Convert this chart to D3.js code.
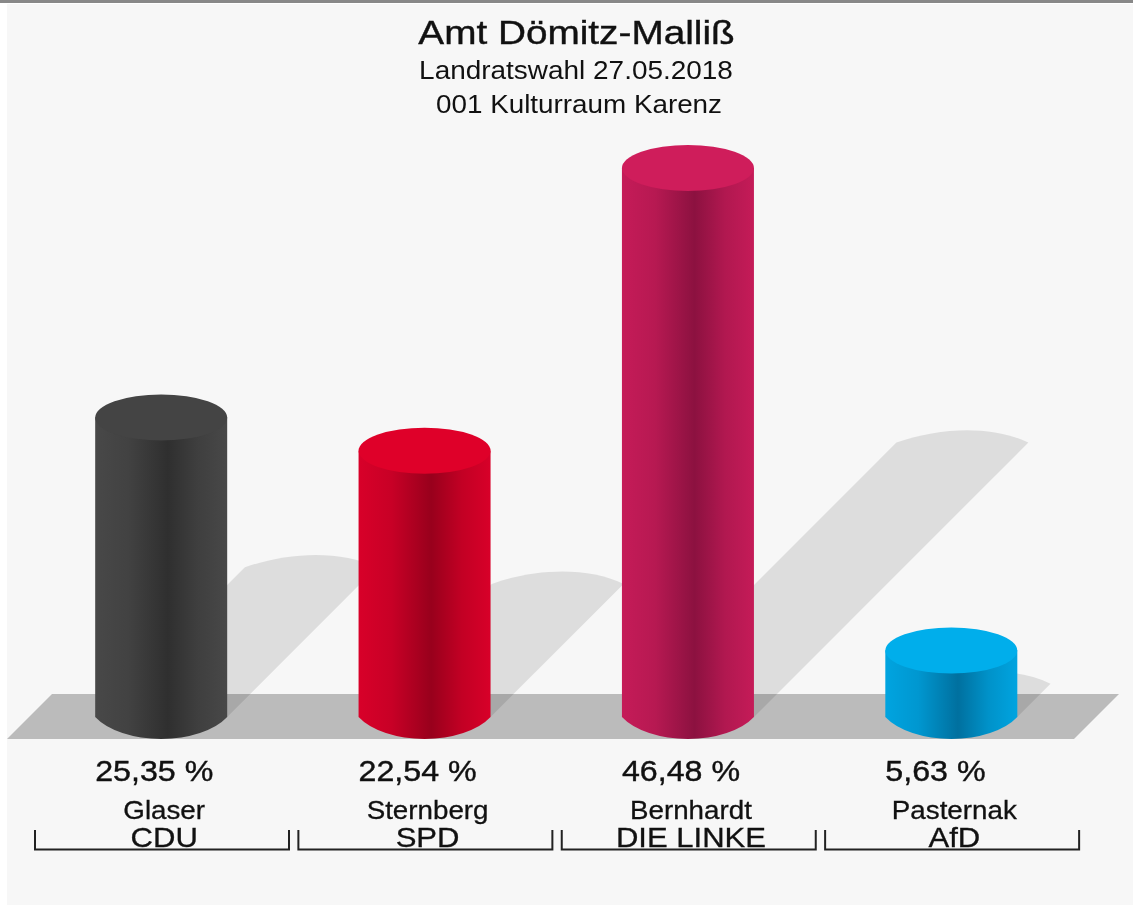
<!DOCTYPE html>
<html lang="en">
<head>
    <meta charset="UTF-8">
    <title>Amt Dömitz-Malliß</title>
    <script src="https://d3js.org/d3.v7.min.js"></script>
    <style>
        html, body { margin: 0; padding: 0; background: #fff; }
        svg { display: block; filter: blur(0.45px); }
        text { font-family: "Liberation Sans", Arial, sans-serif; fill: #111; }
    </style>
</head>
<body>
    <div id="chart"></div>
    <script>
        // Chart values
        const titleLines = ["Amt Dömitz-Malliß", "Landratswahl 27.05.2018", "001 Kulturraum Karenz"];
        const candidates = ["Glaser", "Sternberg", "Bernhardt", "Pasternak"];
        const parties = ["CDU", "SPD", "DIE LINKE", "AfD"];
        const shares = [25.35, 22.54, 46.48, 5.63];
        const shareLabels = ["25,35 %", "22,54 %", "46,48 %", "5,63 %"];

        // Party colours: cap, cylinder edge, cylinder core
        const capColors = ["#444444", "#df0029", "#cf1d5b", "#00aeeb"];
        const edgeColors = ["#484848", "#d80029", "#c51b58", "#00a4e0"];
        const coreColors = ["#2f2f2f", "#98001c", "#8c1140", "#00709f"];

        const width = 1133, height = 905;
        const rx = 66, capRy = 23, baseY = 717;

        const svg = d3.select("#chart").append("svg")
            .attr("width", width)
            .attr("height", height);

        // Scales
        const x = d3.scaleBand().domain(parties).range([29.5, 1083]);
        const y = d3.scaleLinear().domain([0, 50]).range([baseY, baseY - 590.5]);
        const cx = p => x(p) + x.bandwidth() / 2;

        // The reference type is stretched sideways, so text gets a horizontal scale
        function addText(parent, str, px, py, size, stretch, anchor, weight) {
            return parent.append("text")
                .attr("transform", `translate(${px},${py}) scale(${stretch},1)`)
                .attr("text-anchor", anchor)
                .attr("stroke", "#111")
                .attr("stroke-width", weight)
                .style("font-size", size + "px")
                .text(str);
        }

        // Cylinder gradients
        const defs = svg.append("defs");
        parties.forEach((p, i) => {
            const mix = d3.interpolateRgb(edgeColors[i], coreColors[i]);
            const grad = defs.append("linearGradient")
                .attr("id", "body" + i)
                .attr("x1", "0%").attr("x2", "100%");
            grad.append("stop").attr("offset", "0%").attr("stop-color", edgeColors[i]);
            grad.append("stop").attr("offset", "25%").attr("stop-color", mix(0.25));
            grad.append("stop").attr("offset", "55%").attr("stop-color", coreColors[i]);
            grad.append("stop").attr("offset", "78%").attr("stop-color", mix(0.35));
            grad.append("stop").attr("offset", "100%").attr("stop-color", edgeColors[i]);
        });

        // Background panel, top rule
        svg.append("rect").attr("x", 7).attr("y", 4).attr("width", width - 7).attr("height", height - 4).attr("fill", "#f7f7f7");
        svg.append("rect").attr("width", width).attr("height", 3).attr("fill", "#888888");

        // Floor
        svg.append("path")
            .attr("d", d3.line()([[7, 739], [52, 694], [1119, 694], [1074, 739]]) + "Z")
            .attr("fill", "#bbbbbb");

        // Shadows fall back at 45 degrees, half the bar height
        const shadows = svg.append("g").attr("fill", "#000").attr("fill-opacity", 0.1);
        parties.forEach((p, i) => {
            const h = (baseY - y(shares[i])) / 2;
            const c = cx(p);
            const left = c - rx + h, right = c + rx + h, top = baseY - h;
            shadows.append("path").attr("d",
                `M${c - rx},${baseY} L${left},${top}` +
                `C${left + 45},${top - 16} ${right - 35},${top - 17} ${right},${top} L${c + rx},${baseY}Z`);
        });

        // Cylinders
        const bars = svg.append("g");
        parties.forEach((p, i) => {
            const c = cx(p), top = y(shares[i]);
            bars.append("path")
                .attr("d", `M${c - rx},${top} L${c - rx},${baseY} A74,40 0 0 0 ${c + rx},${baseY} L${c + rx},${top}Z`)
                .attr("fill", `url(#body${i})`);
            bars.append("ellipse")
                .attr("cx", c).attr("cy", top)
                .attr("rx", rx).attr("ry", capRy)
                .attr("fill", capColors[i]);
        });

        // Heading
        addText(svg, titleLines[0], 576.5, 44, 34, 1.14, "middle", 0.4);
        addText(svg, titleLines[1], 576, 79, 26.5, 1.055, "middle", 0);
        addText(svg, titleLines[2], 579, 113, 26.5, 1.05, "middle", 0);

        // Labels and brackets
        const labels = svg.append("g");
        parties.forEach((p, i) => {
            const c = cx(p), left = x(p) + 5.5, right = left + 254;
            addText(labels, shareLabels[i], c - 66, 781, 29, 1.11, "start", 0.4);
            addText(labels, candidates[i], c + 3, 819, 25, 1.11, "middle", 0.3);
            addText(labels, p, c + 3, 847, 27, 1.15, "middle", 0.3);
            labels.append("path")
                .attr("d", `M${left},830 V849.5 H${right} V830`)
                .attr("fill", "none").attr("stroke", "#222").attr("stroke-width", 2);
        });
    </script>
</body>
</html>
